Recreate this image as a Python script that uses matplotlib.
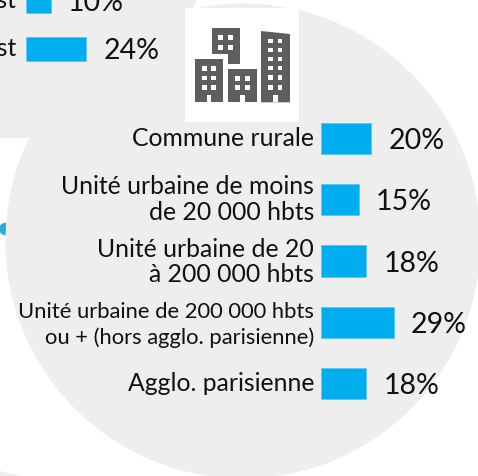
import matplotlib
matplotlib.use("Agg")
import matplotlib.patches as mpatches
import matplotlib.pyplot as plt

W, H = 478, 476
GREY = "#eeeeee"
BLUE = "#00aeef"
ICON = "#5e5e5e"

plt.rcParams["font.family"] = ["Lato", "DejaVu Sans"]

# ── Data ──────────────────────────────────────────────────────────────────────
region_labels = ["Nord-Est", "Sud-Est"]
region_values = [10, 24]

urban_labels = [
    "Commune rurale",
    "Unité urbaine de moins\nde 20 000 hbts",
    "Unité urbaine de 20\nà 200 000 hbts",
    "Unité urbaine de 200 000 hbts\nou + (hors agglo. parisienne)",
    "Agglo. parisienne",
]
urban_values = [20, 15, 18, 29, 18]
urban_sizes = [17.8, 17.8, 17.8, 15.8, 17.8]
urban_spacing = [1.15, 1.15, 1.15, 1.3, 1.15]
urban_shift = [0, 0, -1, -3, 0]

PX_PER_PCT = 2.53


def px_axes(fig, x0, y0, x1, y1):
    """Axes from image pixel box (y going down)."""
    return fig.add_axes([x0 / W, 1 - y1 / H, (x1 - x0) / W, (y1 - y0) / H])


def draw_background(ax):
    ax.add_patch(plt.Circle((5.5, 229), 6.3, fc="#29abe2", ec="none", zorder=1))
    ax.add_patch(mpatches.Polygon([(0, 0), (197, 0), (193, 8), (193, 138), (0, 138)],
                                  fc=GREY, ec="none", zorder=2))
    ax.add_patch(plt.Circle((243, 241), 237.5, fc=GREY, ec="none", zorder=2))
    ax.add_patch(mpatches.Polygon([(0, 471), (8, 472.8), (21, 476), (0, 476)],
                                  fc=GREY, ec="none", zorder=2))
    ax.add_patch(mpatches.Rectangle((185, 8), 114, 114, fc="white", ec="none", zorder=3))


def draw_icon(ax):
    """Buildings, traced in a 3x zoom of the icon box."""
    def zx(v):
        return 180 + v / 3

    def zy(v):
        return v / 3

    def box(x0, y0, x1, y1, color):
        ax.add_patch(mpatches.Rectangle((zx(x0), zy(y0)), (x1 - x0) / 3, (y1 - y0) / 3,
                                        fc=color, ec="none", zorder=5))

    # top building
    pts = [(95, 85), (180, 85), (180, 193), (145, 193), (145, 163), (95, 163)]
    ax.add_patch(mpatches.Polygon([(zx(a), zy(b)) for a, b in pts], fc=ICON, ec="none", zorder=4))
    for y in (106, 135):
        for x in (115, 144):
            box(x, y, x + 14, y + 14, "white")

    # bottom left and middle
    for x0, x1, tops, rows, cols in [
        (44, 130, 178, (198, 227, 256), (66, 94)),
        (145, 230, 207, (228, 256), (166, 195)),
    ]:
        box(x0, tops, x1, 307, ICON)
        for y in rows:
            for x in cols:
                box(x, y, x + 14, y + 14, "white")
        door = (x0 + x1) / 2 - 7
        box(door, 285, door + 14, 307, "white")

    # tall building, slanted roof
    pts = [(243, 93), (330, 102), (330, 307), (243, 307)]
    ax.add_patch(mpatches.Polygon([(zx(a), zy(b)) for a, b in pts], fc=ICON, ec="none", zorder=4))
    for y in (116, 143, 170, 197, 226, 255):
        for x in (265, 293):
            box(x, y, x + 14, y + 14, "white")
    box(280, 285, 294, 307, "white")


def draw_bars(ax, labels, values, sizes, spacing, shifts, label_gap):
    y = list(range(len(values)))
    ax.barh(y, values, height=ax.bar_h, color=BLUE, edgecolor="#55c6f0", linewidth=0.5)
    ax.set_xlim(0, ax.span)
    ax.set_ylim(len(values) - 0.5, -0.5)
    ax.axis("off")
    for i, (lab, val, fs, ls, dy) in enumerate(zip(labels, values, sizes, spacing, shifts)):
        ax.annotate(lab, (0, i), xytext=(-label_gap, dy), textcoords="offset pixels",
                    ha="right", va="center", fontsize=fs, color="#111111",
                    multialignment="right", linespacing=ls, annotation_clip=False)
        ax.annotate(f"{val}%", (val, i), xytext=(17, -2.5), textcoords="offset pixels",
                    ha="left", va="center", fontsize=20.5, color="#111111",
                    annotation_clip=False)


def main():
    fig = plt.figure(figsize=(W / 100, H / 100), dpi=100, facecolor="white")

    bg = fig.add_axes([0, 0, 1, 1])
    bg.set_xlim(0, W)
    bg.set_ylim(H, 0)
    bg.axis("off")
    draw_background(bg)
    draw_icon(bg)

    # lower chart: rows are 61.2 px apart
    low = px_axes(fig, 320.7, 108, 478, 414)
    low.patch.set_alpha(0)
    low.bar_h = 31 / 61.2
    low.span = (478 - 320.7) / PX_PER_PCT
    draw_bars(low, urban_labels, urban_values, urban_sizes, urban_spacing, urban_shift, 6.5)

    # upper chart: rows are 48 px apart, the first one is cut by the image edge
    up = px_axes(fig, 25.7, -23.3, 183, 72.7)
    up.patch.set_alpha(0)
    up.bar_h = 24 / 48
    up.span = (183 - 25.7) / PX_PER_PCT
    draw_bars(up, region_labels, region_values, [17.8, 17.8], [1.15, 1.15], [0, 0], 9)

    fig.savefig("out.png", dpi=100, facecolor="white")


if __name__ == "__main__":
    main()
